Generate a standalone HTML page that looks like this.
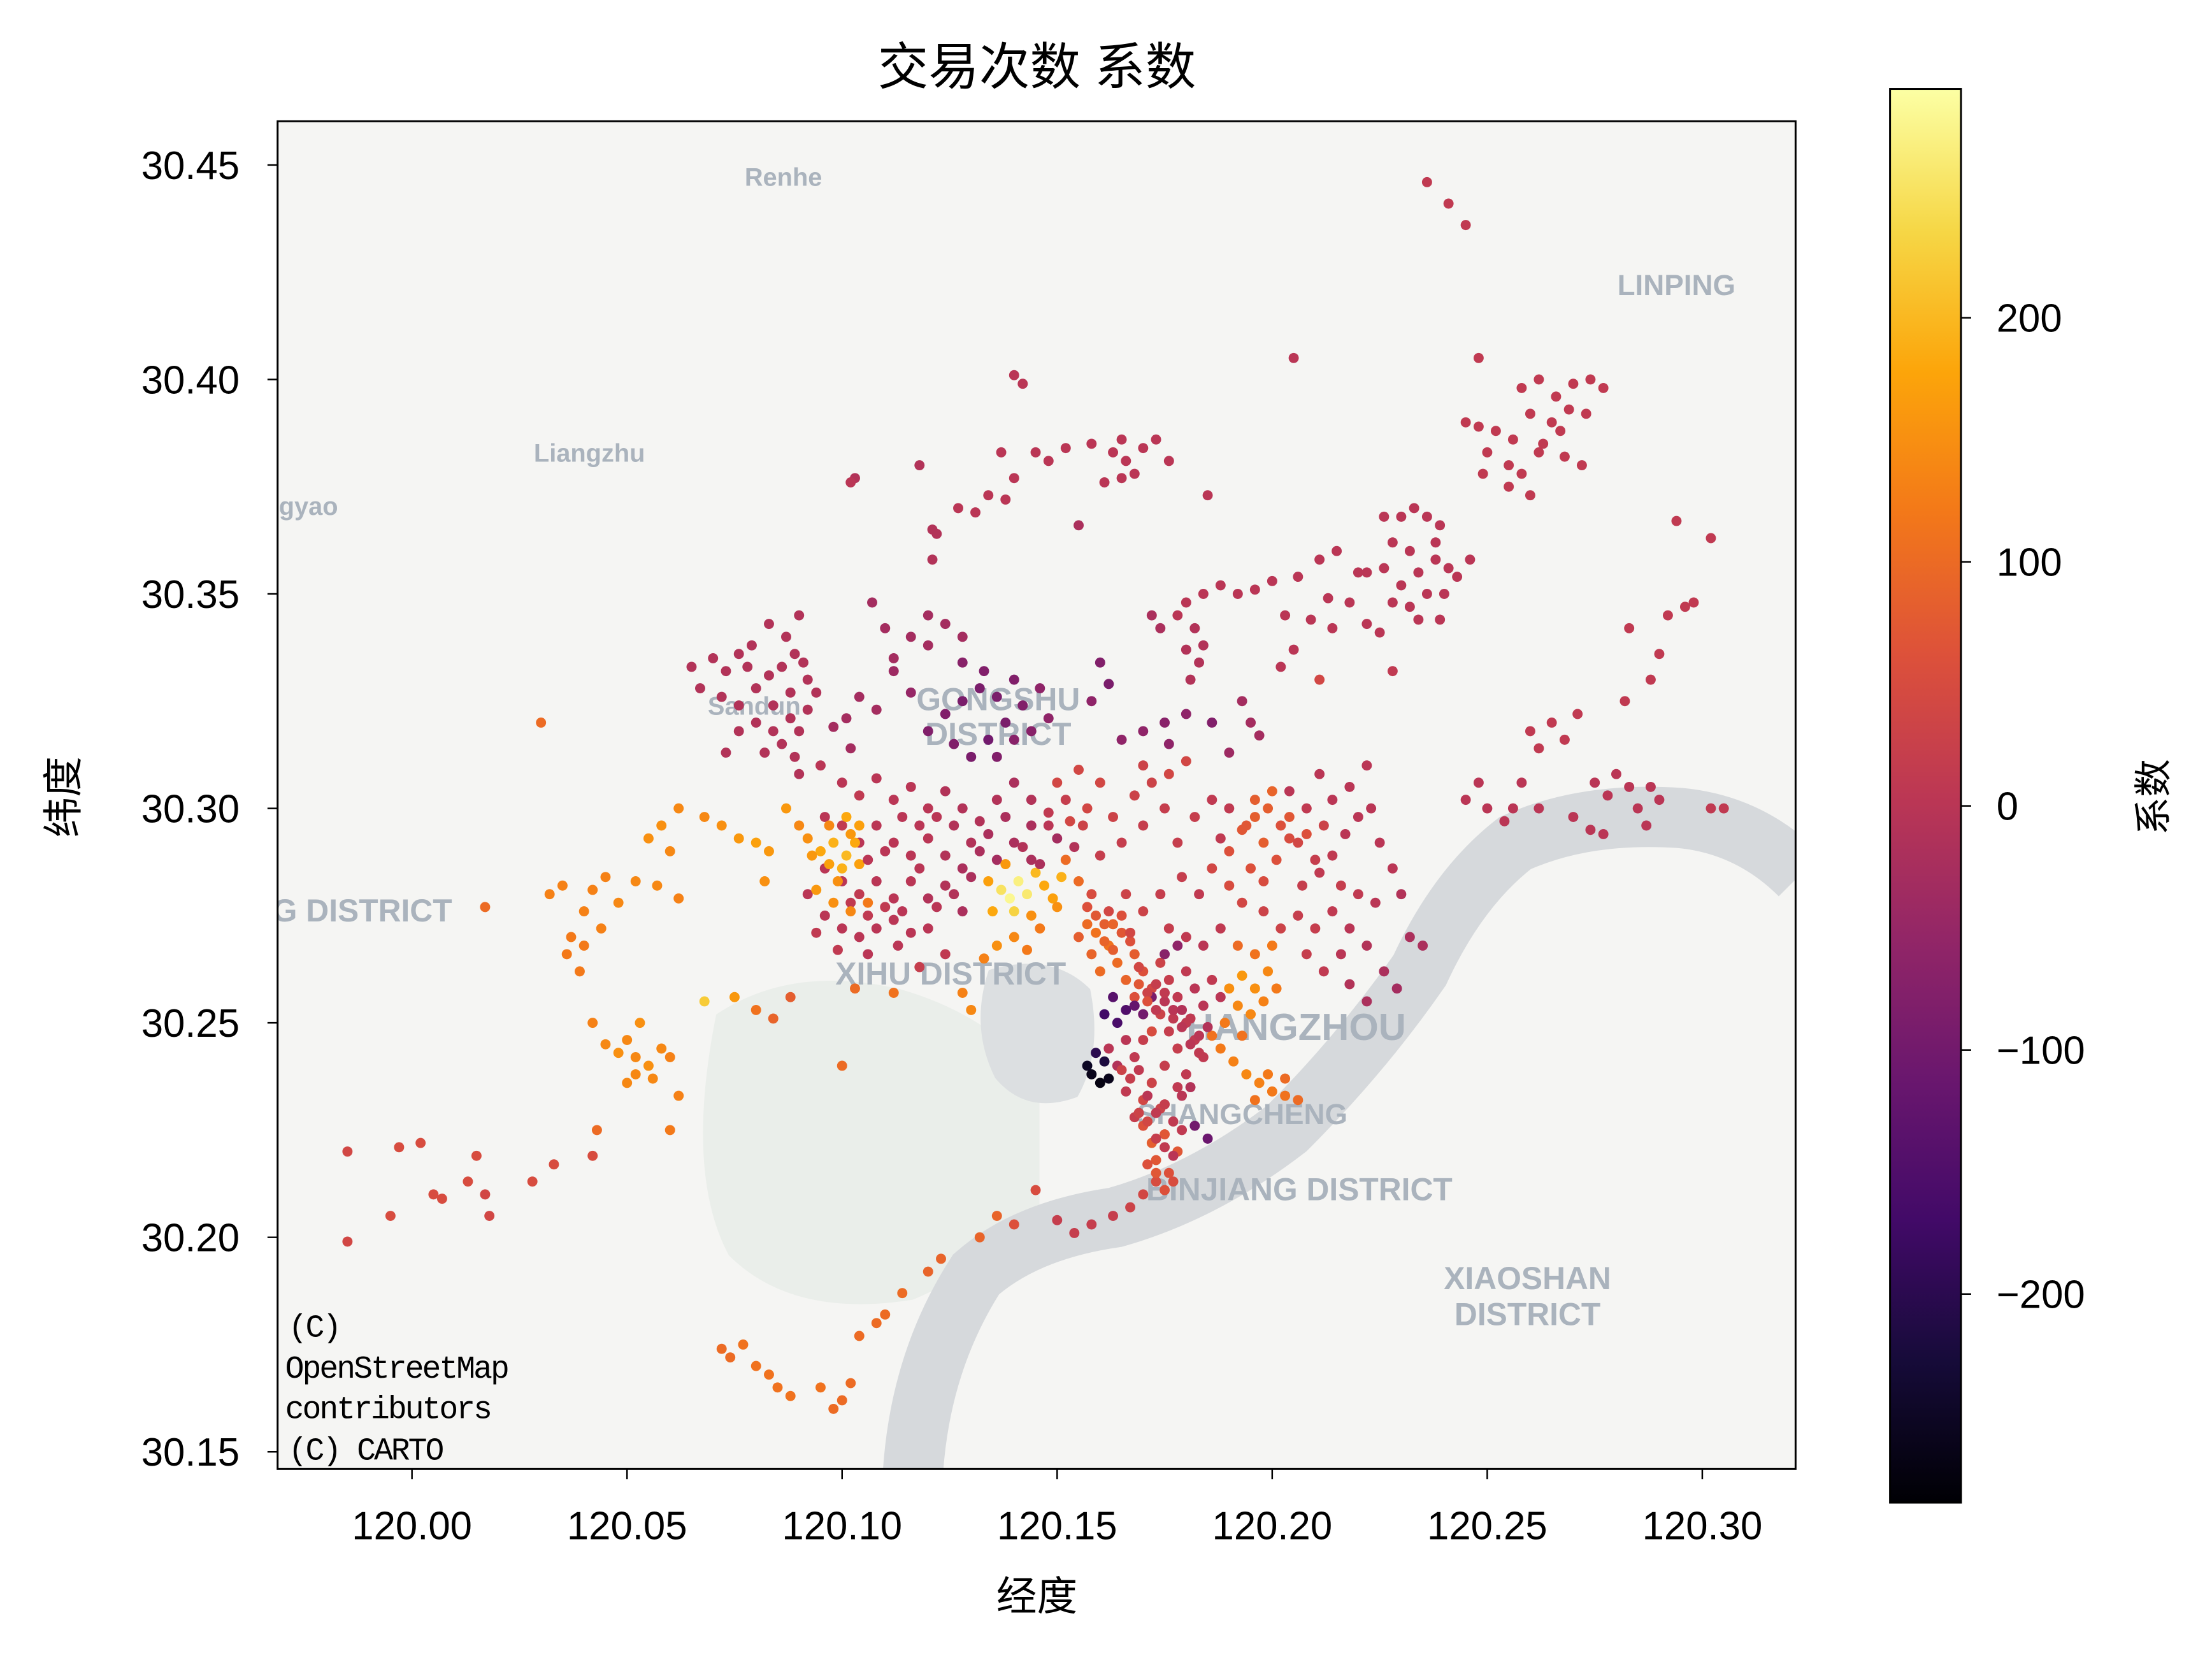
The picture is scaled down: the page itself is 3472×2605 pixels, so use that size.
<!DOCTYPE html>
<html><head><meta charset="utf-8"><style>
html,body{margin:0;padding:0;background:#fff;}
svg{display:block;}
.cj{font-family:"Liberation Sans","Noto Sans CJK SC",sans-serif;}
</style></head><body>
<svg id="chart" xmlns="http://www.w3.org/2000/svg" width="3472" height="2605" viewBox="0 0 3490 2618">
<defs>
<clipPath id="plotclip"><rect x="438" y="191" width="2395" height="2126"/></clipPath>
<linearGradient id="cbgrad" x1="0" y1="1" x2="0" y2="0">
<stop offset="0" stop-color="#000004"/><stop offset="0.1" stop-color="#160b39"/><stop offset="0.2" stop-color="#420a68"/><stop offset="0.3" stop-color="#6a176e"/><stop offset="0.4" stop-color="#932667"/><stop offset="0.5" stop-color="#bc3754"/><stop offset="0.6" stop-color="#dd513a"/><stop offset="0.7" stop-color="#f37819"/><stop offset="0.8" stop-color="#fca50a"/><stop offset="0.9" stop-color="#f6d746"/><stop offset="1" stop-color="#fcffa4"/>
</linearGradient>
</defs>
<text class="cj" x="1636" y="133" font-size="80" text-anchor="middle" fill="#000">交易次数 系数</text>
<g clip-path="url(#plotclip)">
<rect x="438" y="191" width="2395" height="2126" fill="#f5f5f3"/>
<path d="M1130 1600 Q1250 1520 1420 1560 Q1560 1600 1640 1700 L1640 1900 Q1560 2000 1440 2050 Q1250 2080 1150 1980 Q1080 1850 1130 1600Z" fill="#eaeeea"/>
<path d="M1560 1530 Q1660 1500 1720 1560 Q1740 1660 1700 1730 Q1620 1760 1570 1700 Q1530 1620 1560 1530Z" fill="#dcdfe1"/>
<path d="M1440 2330 Q1450 2150 1540 2010 Q1620 1940 1760 1920 Q1900 1880 2030 1780 Q2150 1660 2240 1530 Q2300 1400 2390 1330 Q2500 1280 2650 1290 Q2760 1300 2840 1380" fill="none" stroke="#d6d9dc" stroke-width="95"/>
<g font-weight="bold" fill="#aab3bd" style="font-family:'Liberation Sans',sans-serif">
<text x="1236" y="293" font-size="40" text-anchor="middle">Renhe</text>
<text x="2645" y="465" font-size="46" text-anchor="middle">LINPING</text>
<text x="930" y="728" font-size="40" text-anchor="middle">Liangzhu</text>
<text x="440" y="812" font-size="40">gyao</text>
<text x="1190" y="1127" font-size="40" text-anchor="middle">Sandun</text>
<text x="1575" y="1120" font-size="50" text-anchor="middle">GONGSHU</text>
<text x="1575" y="1175" font-size="50" text-anchor="middle">DISTRICT</text>
<text x="430" y="1453" font-size="50">G DISTRICT</text>
<text x="1500" y="1553" font-size="50" text-anchor="middle">XIHU DISTRICT</text>
<text x="2045" y="1640" font-size="60" text-anchor="middle">HANGZHOU</text>
<text x="1960" y="1773" font-size="46" text-anchor="middle">SHANGCHENG</text>
<text x="2050" y="1893" font-size="50" text-anchor="middle">BINJIANG DISTRICT</text>
<text x="2410" y="2033" font-size="50" text-anchor="middle">XIAOSHAN</text>
<text x="2410" y="2090" font-size="50" text-anchor="middle">DISTRICT</text>
</g>
<g id="points"></g>
</g>
<g font-size="50" fill="#000" style="font-family:'Liberation Mono',monospace;letter-spacing:-3px">
<text x="455" y="2108">(C)</text>
<text x="450" y="2173">OpenStreetMap</text>
<text x="450" y="2237">contributors</text>
<text x="455" y="2302">(C) CARTO</text>
</g>
<rect x="438" y="191" width="2395" height="2126" fill="none" stroke="#000" stroke-width="3"/>
<g id="xaxis" class="cj"></g>
<g id="yaxis" class="cj"></g>
<text class="cj" x="1636" y="2540" font-size="64" text-anchor="middle">经度</text>
<text class="cj" transform="translate(122,1257) rotate(-90)" font-size="64" text-anchor="middle">纬度</text>
<rect x="2982" y="140" width="112" height="2230" fill="url(#cbgrad)" stroke="#000" stroke-width="3"/>
<g id="cbaxis" class="cj"></g>
<text class="cj" transform="translate(3418,1257) rotate(-90)" font-size="60" text-anchor="middle">系数</text>
</svg>
<script>
const lons=[120.236,120.241,120.245,120.248,120.205,120.258,120.262,120.266,120.270,120.274,120.277,120.260,120.265,120.269,120.273,120.256,120.263,120.267,120.252,120.248,120.245,120.250,120.255,120.258,120.262,120.268,120.260,120.255,120.272,120.249,120.294,120.302,
120.230,120.233,120.236,120.228,120.232,120.238,120.226,120.230,120.234,120.238,120.241,120.236,120.240,120.232,120.228,120.243,120.246,120.222,120.234,120.239,120.226,120.239,
120.215,120.211,120.206,120.200,120.196,120.192,120.188,120.184,120.180,120.178,120.203,120.209,120.214,120.218,120.222,120.225,120.205,120.202,120.213,120.220,120.228,120.211,
120.182,120.180,120.183,120.181,120.184,120.185,120.172,120.174,
120.140,120.142,120.137,120.145,120.148,120.152,120.158,120.163,120.166,120.165,120.170,120.168,120.161,120.165,120.173,120.176,120.134,120.138,120.140,120.127,120.131,120.118,120.103,120.102,120.121,120.122,120.155,120.121,
120.065,120.067,120.070,120.073,120.076,120.078,120.072,120.076,120.080,120.083,120.086,120.089,120.091,120.092,120.088,120.084,120.080,120.084,120.088,120.090,120.086,120.082,120.089,120.092,120.094,120.087,120.090,120.079,120.083,120.076,120.073,120.090,
120.120,120.124,120.128,120.132,120.136,120.140,120.142,120.138,120.134,120.130,120.126,120.136,120.140,120.144,120.133,120.128,120.146,120.148,120.116,120.112,120.108,120.104,120.101,120.098,120.102,120.120,120.124,120.116,120.128,120.120,120.110,120.107,120.112,120.160,120.162,120.158,120.170,120.165,120.175,120.180,120.176,120.186,120.190,120.195,120.197,120.193,
120.150,120.155,120.160,120.157,120.153,120.163,120.168,120.172,120.175,120.170,120.165,120.160,120.176,120.180,120.170,120.178,120.182,120.186,120.190,120.188,
120.095,120.100,120.104,120.108,120.112,120.116,120.120,120.124,120.128,120.132,120.136,120.140,120.144,120.148,120.096,120.100,120.104,120.108,120.112,120.116,120.120,120.124,120.128,120.132,120.136,120.140,120.144,120.096,120.100,120.104,120.108,120.112,120.116,120.120,120.124,120.128,120.096,120.100,120.104,120.108,120.112,120.116,120.092,120.094,120.099,120.106,120.113,120.120,120.124,120.118,
120.137,120.139,120.141,120.143,120.140,120.145,120.147,120.149,120.151,120.150,120.135,120.134,120.138,120.144,120.146,120.140,120.136,120.133,120.152,120.155,
120.095,120.098,120.101,120.103,120.100,120.097,120.093,120.104,120.099,120.092,120.097,120.102,120.090,
120.155,120.158,120.160,120.162,120.164,120.166,120.168,120.170,120.172,120.174,120.176,120.178,120.180,120.182,120.184,120.186,120.188,120.168,120.170,120.172,120.174,120.176,120.178,120.180,120.182,120.184,120.175,120.172,120.170,120.174,120.178,120.180,120.170,120.172,120.175,120.178,120.168,120.166,120.176,120.173,120.170,120.167,120.163,120.158,120.154,120.150,120.162,120.164,120.166,120.168,120.170,120.176,120.180,120.184,120.188,120.183,120.179,120.174,120.170,120.166,120.162,120.158,
120.158,120.160,120.157,120.161,120.159,120.162,120.164,120.166,120.163,120.168,120.161,
120.170,120.172,120.175,120.178,120.182,120.185,
120.190,120.193,120.196,120.199,120.192,120.195,120.198,120.201,120.189,120.193,120.188,120.191,120.194,120.197,120.200,120.203,120.206,120.199,120.203,120.196,120.186,
120.190,120.193,120.196,120.199,120.195,120.198,120.201,120.204,120.190,120.186,120.193,120.198,120.202,120.206,120.210,120.207,120.211,120.214,120.217,120.220,120.223,120.214,120.218,120.222,120.216,120.226,120.229,120.222,120.218,120.212,120.208,120.228,120.225,120.230,120.232,120.235,120.218,120.222,120.214,120.208,120.204,120.211,
120.245,120.248,120.250,120.256,120.258,120.254,120.262,120.270,120.275,120.278,120.280,120.283,120.285,120.288,120.290,120.274,120.277,120.287,120.260,120.262,120.265,120.268,120.271,120.282,120.288,120.290,120.302,120.305,120.283,120.292,120.296,120.298,
120.062,120.068,120.058,120.055,120.060,120.072,120.076,120.080,120.083,120.087,120.082,120.045,120.042,120.048,120.052,120.057,120.062,120.035,120.032,120.040,120.037,120.040,120.036,120.039,120.044,120.017,120.030,
120.042,120.045,120.048,120.050,120.052,120.055,120.058,120.060,120.053,120.056,120.062,120.050,120.060,120.068,120.075,120.080,120.084,120.088,120.100,120.043,120.052,
119.985,119.985,119.997,120.002,119.995,120.005,120.007,120.013,120.015,120.017,120.018,120.028,120.033,120.042,
120.072,120.074,120.077,120.080,120.083,120.085,120.088,120.095,120.098,120.100,120.102,120.104,120.108,120.110,120.114,120.120,120.123,120.132,120.136,120.140,120.145,
120.143,120.130,120.128,120.112,120.103,120.173,
120.157,120.159,120.161,120.163,120.165,120.167,120.169,120.171,120.173,120.175,120.177,120.179,120.181,120.183,120.185,120.157,120.159,120.161,120.163,120.165,120.167,120.169,120.171,120.173,120.175,120.177,120.179,120.181,120.183,120.165,120.167,120.169,120.171,120.173,120.175,120.177,120.179,120.181,120.169,120.171,120.173,120.175,120.177,120.179,120.171,120.173,120.175,120.177,
120.142,120.146,120.150,120.154,120.148,120.152,120.156,120.144,120.138,120.134,120.130,120.126,120.122,120.118,120.114,120.110,120.106,120.102,120.130,120.126,120.122,120.118,120.114,120.110,120.106,
120.192,120.196,120.200,120.194,120.198,120.202,120.206,120.210,120.196,120.200,120.204,120.208,120.212,120.216,120.220,120.224,
120.101,120.104,120.094,120.098,120.102,120.106];
const lats=[30.446,30.441,30.436,30.405,30.405,30.398,30.400,30.396,30.399,30.400,30.398,30.392,30.390,30.393,30.392,30.386,30.385,30.388,30.388,30.389,30.390,30.383,30.380,30.378,30.383,30.382,30.373,30.375,30.380,30.378,30.367,30.363,
30.368,30.370,30.368,30.362,30.360,30.362,30.356,30.352,30.355,30.358,30.356,30.350,30.350,30.347,30.348,30.354,30.358,30.355,30.344,30.344,30.368,30.366,
30.360,30.358,30.354,30.353,30.351,30.350,30.352,30.350,30.348,30.345,30.345,30.344,30.342,30.348,30.343,30.341,30.337,30.333,30.349,30.355,30.332,30.330,
30.342,30.337,30.334,30.330,30.338,30.373,30.345,30.342,
30.401,30.399,30.383,30.383,30.381,30.384,30.385,30.383,30.381,30.386,30.384,30.378,30.376,30.377,30.386,30.381,30.373,30.372,30.377,30.370,30.369,30.380,30.377,30.376,30.365,30.364,30.366,30.358,
30.333,30.328,30.335,30.332,30.336,30.333,30.326,30.324,30.328,30.331,30.333,30.336,30.334,30.330,30.327,30.324,30.320,30.318,30.321,30.318,30.315,30.313,30.312,30.323,30.327,30.340,30.345,30.338,30.343,30.318,30.313,30.308,
30.318,30.322,30.325,30.328,30.326,30.330,30.324,30.320,30.316,30.312,30.315,30.312,30.316,30.318,30.332,30.334,30.328,30.321,30.327,30.332,30.323,30.326,30.321,30.319,30.314,30.338,30.343,30.340,30.340,30.345,30.342,30.348,30.335,30.334,30.329,30.325,30.318,30.316,30.320,30.322,30.315,30.320,30.313,30.320,30.317,30.325,
30.306,30.309,30.306,30.300,30.297,30.298,30.303,30.306,30.300,30.296,30.292,30.289,30.308,30.311,30.310,30.292,30.298,30.302,30.300,30.293,
30.310,30.306,30.303,30.307,30.302,30.305,30.300,30.304,30.300,30.297,30.302,30.306,30.302,30.296,30.298,30.296,30.292,30.296,30.292,30.289,30.293,30.289,30.286,30.290,30.288,30.292,30.288,30.286,30.283,30.280,30.283,30.279,30.283,30.279,30.282,30.276,30.275,30.272,30.270,30.272,30.274,30.271,30.280,30.271,30.267,30.266,30.268,30.272,30.266,30.263,
30.281,30.279,30.283,30.280,30.276,30.285,30.282,30.279,30.284,30.277,30.276,30.283,30.287,30.275,30.272,30.270,30.268,30.265,30.288,30.283,
30.290,30.292,30.289,30.292,30.286,30.287,30.289,30.287,30.283,30.293,30.296,30.294,30.296,
30.270,30.266,30.262,30.268,30.264,30.260,30.266,30.262,30.258,30.264,30.260,30.256,30.262,30.258,30.254,30.260,30.256,30.256,30.252,30.248,30.252,30.248,30.244,30.250,30.246,30.242,30.240,30.236,30.232,30.230,30.235,30.238,30.226,30.222,30.224,30.220,30.228,30.234,30.215,30.213,30.210,30.207,30.205,30.203,30.201,30.204,30.244,30.240,30.246,30.242,30.246,30.272,30.270,30.268,30.272,30.280,30.284,30.280,30.276,30.280,30.276,30.280,
30.238,30.236,30.240,30.241,30.243,30.237,30.250,30.253,30.256,30.254,30.252,
30.252,30.256,30.266,30.268,30.226,30.223,
30.258,30.261,30.258,30.262,30.254,30.252,30.255,30.258,30.250,30.247,30.244,30.241,30.238,30.236,30.234,30.233,30.232,30.238,30.237,30.232,30.247,
30.290,30.295,30.298,30.300,30.286,30.283,30.288,30.293,30.282,30.286,30.278,30.276,30.272,30.275,30.272,30.282,30.285,30.289,30.294,30.298,30.300,30.276,30.272,30.268,30.266,30.262,30.258,30.255,30.259,30.262,30.266,30.286,30.292,30.280,30.270,30.268,30.305,30.310,30.302,30.300,30.304,30.308,
30.302,30.306,30.300,30.300,30.306,30.297,30.300,30.298,30.306,30.303,30.308,30.305,30.300,30.305,30.302,30.295,30.294,30.296,30.318,30.314,30.320,30.316,30.322,30.325,30.330,30.336,30.300,30.300,30.342,30.345,30.347,30.348,
30.300,30.298,30.296,30.293,30.290,30.296,30.293,30.292,30.290,30.300,30.283,30.284,30.281,30.278,30.283,30.282,30.279,30.282,30.280,30.276,30.270,30.268,30.266,30.262,30.272,30.277,30.320,
30.250,30.245,30.243,30.246,30.242,30.240,30.244,30.242,30.250,30.237,30.233,30.236,30.225,30.255,30.256,30.253,30.251,30.256,30.240,30.225,30.238,
30.220,30.199,30.221,30.222,30.205,30.210,30.209,30.213,30.219,30.210,30.205,30.213,30.217,30.219,
30.174,30.172,30.175,30.170,30.168,30.165,30.163,30.165,30.160,30.162,30.166,30.177,30.180,30.182,30.187,30.192,30.195,30.200,30.205,30.203,30.211,
30.267,30.253,30.257,30.257,30.258,30.218,
30.273,30.271,30.269,30.267,30.271,30.269,30.263,30.257,30.253,30.255,30.251,30.249,30.251,30.247,30.249,30.277,30.275,30.273,30.273,30.275,30.271,30.259,30.255,30.259,30.257,30.253,30.253,30.245,30.243,30.239,30.237,30.239,30.233,30.229,30.231,30.227,30.233,30.235,30.229,30.227,30.223,30.221,30.219,30.225,30.217,30.215,30.211,30.213,
30.291,30.287,30.293,30.291,30.299,30.302,30.296,30.296,30.298,30.294,30.292,30.296,30.298,30.296,30.298,30.290,30.288,30.278,30.284,30.280,30.277,30.286,30.276,30.277,30.275,
30.268,30.266,30.268,30.296,30.292,30.296,30.292,30.288,30.302,30.304,30.298,30.294,30.296,30.282,30.280,30.278,
30.298,30.296,30.281,30.278,30.276,30.278];
const vals=[10,10,10,10,0,10,10,10,10,10,10,10,10,10,10,10,10,10,10,10,10,10,10,10,10,10,10,10,10,10,10,10,
0,0,0,0,0,0,0,0,0,0,0,0,0,0,0,0,0,0,0,0,0,0,
0,0,0,0,0,0,0,0,0,0,0,0,0,0,0,0,0,0,0,0,10,40,
-10,-10,-10,-10,-10,0,-20,-20,
0,0,0,0,0,0,0,0,0,0,0,0,0,0,0,0,0,0,0,0,0,-10,-10,0,-10,-10,-20,-10,
-10,-10,-10,-10,-10,-10,-10,-10,-10,-10,-10,-10,-10,-10,-10,-10,-10,-10,-10,-10,-10,-10,-10,-10,-10,-10,-10,-10,-10,-10,-10,-10,
-80,-80,-90,-90,-90,-80,-80,-90,-100,-90,-80,-80,-70,-70,-80,-70,-60,-60,-50,-40,-30,-30,-30,-30,-30,-30,-30,-30,-30,-30,-30,-30,-30,-80,-90,-60,-60,-60,-70,-60,-60,-80,-40,-30,-30,-30,
40,40,40,40,40,30,30,30,20,20,20,20,40,40,30,20,20,10,10,10,
0,0,10,0,0,0,0,-10,-10,-10,-10,-20,-10,0,0,10,0,0,0,0,0,-10,-20,-20,-30,-20,-20,0,0,10,0,0,0,-10,-10,-20,0,0,0,0,0,0,0,10,10,0,0,0,10,20,
250,280,270,260,230,200,180,170,190,150,180,170,160,150,120,140,150,130,100,100,
180,190,200,180,190,170,160,170,150,150,140,160,140,
80,90,100,110,100,90,80,60,40,30,20,10,10,0,0,10,0,60,70,50,30,20,20,10,10,10,20,30,40,30,10,10,60,80,70,70,20,10,60,50,40,30,20,20,20,20,0,-10,0,10,20,20,10,0,10,10,20,20,30,30,40,50,
-260,-270,-250,-220,-200,-260,-160,-150,-140,-120,-170,
-100,-90,-70,-60,-100,-110,
150,160,150,140,140,140,130,120,120,110,120,130,140,130,120,110,100,120,100,110,110,
60,70,80,80,60,50,60,50,50,40,40,30,30,20,20,20,10,10,0,0,0,10,0,-10,0,-20,-30,-20,-10,10,20,0,0,-10,-20,-20,0,0,0,10,0,0,
0,0,0,0,0,0,0,0,0,0,0,0,0,0,0,0,0,0,10,10,10,10,10,10,10,10,10,10,10,10,10,10,
140,140,150,150,140,150,160,170,160,160,150,130,130,140,140,140,130,130,130,130,120,120,120,120,130,100,100,
130,140,150,140,140,150,140,130,150,140,130,140,120,220,160,110,90,80,100,100,140,
40,40,50,50,50,50,50,50,50,40,40,50,50,50,
100,100,110,110,110,110,110,110,100,100,100,100,100,100,100,90,90,90,90,60,50,
120,140,130,110,100,70,
100,110,90,80,70,60,40,30,10,0,10,0,10,0,-10,60,70,80,90,60,40,70,60,20,10,0,-10,0,10,30,20,10,0,10,20,10,0,-10,30,40,20,10,0,10,60,70,60,50,
-10,-20,-30,-10,10,20,30,-20,-20,-20,-10,-10,0,0,0,0,0,10,-20,-10,0,0,0,10,10,
100,110,120,70,80,60,40,20,80,90,70,60,30,20,10,0,
180,170,160,150,140,120];
const xTicks=[120.00,120.05,120.10,120.15,120.20,120.25,120.30];
const yTicks=[30.15,30.20,30.25,30.30,30.35,30.40,30.45];
const cbTicks=[-200,-100,0,100,200];
const cbMin=-285, cbMax=292;

const NS='http://www.w3.org/2000/svg';
function xScale(lon){return 650+(lon-120)*6786;}
function yScale(lat){return 260+(30.45-lat)*6766;}
function cbScale(v){return 1271-v*3.85;}
const stops=[[0,0,4],[22,11,57],[66,10,104],[106,23,110],[147,38,103],[188,55,84],[221,81,58],[243,120,25],[252,165,10],[246,215,70],[252,255,164]];
function cmap(v){
  let t=(v-cbMin)/(cbMax-cbMin);t=Math.max(0,Math.min(1,t))*10;
  const i=Math.min(9,Math.floor(t)),f=t-i,a=stops[i],b=stops[i+1];
  return 'rgb('+a.map((c,k)=>Math.round(c+(b[k]-c)*f)).join(',')+')';
}
function mk(tag,attrs,parent){const e=document.createElementNS(NS,tag);for(const k in attrs)e.setAttribute(k,attrs[k]);parent.appendChild(e);return e;}
const pg=document.getElementById('points');
const n=Math.min(lons.length,lats.length,vals.length);
for(let i=0;i<n;i++){
  const c=mk('circle',{cx:xScale(lons[i]),cy:yScale(lats[i]),r:8,fill:cmap(vals[i])},pg);
  
  
}
const xa=document.getElementById('xaxis');
xTicks.forEach(v=>{
  const x=xScale(v);
  const l=mk('line',{x1:x,x2:x,y1:2317,y2:2333,stroke:'#000','stroke-width':2.5},xa);
  
  
  const t=mk('text',{x:x,y:2428,'font-size':62,'text-anchor':'middle'},xa);
  t.textContent=v.toFixed(2);
  
  
});
const ya=document.getElementById('yaxis');
yTicks.forEach(v=>{
  const y=yScale(v);
  const l=mk('line',{x1:422,x2:438,y1:y,y2:y,stroke:'#000','stroke-width':2.5},ya);
  
  
  const t=mk('text',{x:378,y:y+22,'font-size':62,'text-anchor':'end'},ya);
  t.textContent=v.toFixed(2);
  
  
});
const ca=document.getElementById('cbaxis');
cbTicks.forEach(v=>{
  const y=cbScale(v);
  const l=mk('line',{x1:3094,x2:3110,y1:y,y2:y,stroke:'#000','stroke-width':2.5},ca);
  
  
  const t=mk('text',{x:3150,y:y+22,'font-size':62,'text-anchor':'start'},ca);
  t.textContent=v<0?'\u2212'+Math.abs(v):String(v);
  
  
});
</script>
</body></html>
